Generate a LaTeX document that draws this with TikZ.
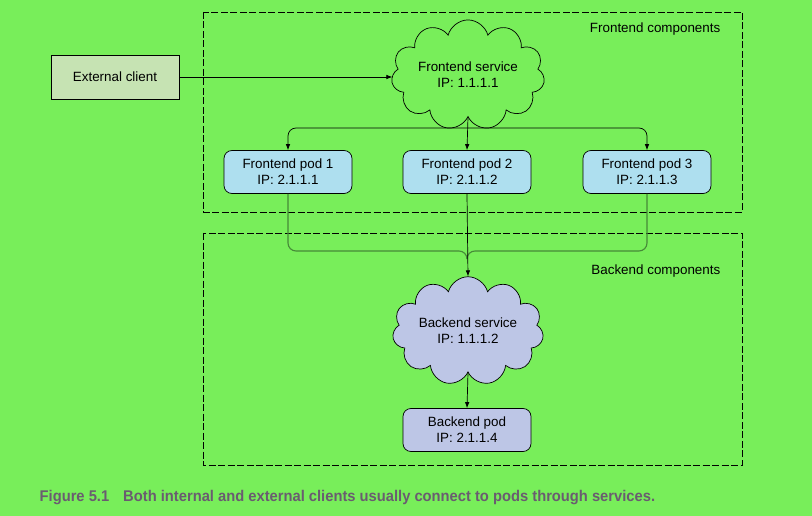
\documentclass[tikz,border=0pt]{standalone}
\usepackage{fontspec}
\setmainfont{Liberation Sans}
\newfontfamily\captionfont[FakeStretch=0.95]{Liberation Sans}
\usetikzlibrary{
    shapes.symbols,
    arrows.meta,
    positioning
}
\definecolor{pagegreen}{HTML}{78EE5A}
\definecolor{clientfill}{HTML}{C6E3B3}
\definecolor{podfill}{HTML}{AEDFEF}
\definecolor{backfill}{HTML}{BDC6E6}
\definecolor{mergeline}{HTML}{468A38}
\definecolor{captiongray}{HTML}{6A5C70}
\tikzset{
    label text/.style={font=\fontsize{13.4}{16}\selectfont, align=center},
    client/.style={label text, draw, fill=clientfill, minimum width=128pt, minimum height=44pt},
    service/.style={label text, cloud, draw, cloud puffs=11, aspect=1.7,
        minimum width=150pt, minimum height=90pt, inner sep=0pt},
    pod/.style={label text, draw, rounded corners=8pt, minimum width=128pt, minimum height=43pt},
    link/.style={-{Latex[length=6pt, width=4.5pt]}},
    group/.style={draw, dash pattern=on 7pt off 2.5pt},
}

\begin{document}
\begin{tikzpicture}[x=1pt, y=-1pt, line width=0.7pt]
    \useasboundingbox[fill=pagegreen] (0, 0) rectangle (812, 516);
    % component frames
    \draw[group] (203, 12) rectangle (742, 212);
    \draw[group] (203, 233) rectangle (742, 465);
    \node[label text, anchor=east] (frontlabel) at (724, 29) {Frontend components};
    \node[label text, anchor=east] (backlabel) at (724, 271) {Backend components};
    % nodes
    \node[client] (ext) at (115, 77) {External client};
    \node[service, fill=pagegreen] (fsvc) at (468, 75) {Frontend service\\IP: 1.1.1.1};
    \foreach \i/\x in {1/288, 2/467, 3/647} {
        \node[pod, fill=podfill] (pod\i) at (\x, 172) {Frontend pod \i\\IP: 2.1.1.\i};
    }
    \node[service, fill=backfill] (bsvc) at (468, 331) {Backend service\\IP: 1.1.1.2};
    \node[pod, fill=backfill] (bpod) at (467, 430) {Backend pod\\IP: 2.1.1.4};
    % connectors
    \coordinate (split) at (467, 128);
    \coordinate (merge) at (467, 251);
    \draw[link] (ext.east) -- (ext.east -| fsvc.west);
    \draw[link] (fsvc.south) -- (pod2.north);
    \foreach \i in {1, 3} {
        \draw[link, rounded corners=8pt] (split) -| (pod\i.north);
        \draw[mergeline, line width=1.1pt, rounded corners=8pt] (pod\i.south) |- (merge) -- ++(0, 8);
    }
    \draw[link] (pod2.south) -- (bsvc.north);
    \draw[link] (bsvc.south) -- (bpod.north);
    % caption
    \node[anchor=west, text=captiongray, font={\captionfont\bfseries\fontsize{15.5}{18}\selectfont}]
        (caption) at (36, 498) {Figure 5.1\hspace{14pt}Both internal and external clients usually connect to pods through services.};
\end{tikzpicture}
\end{document}
